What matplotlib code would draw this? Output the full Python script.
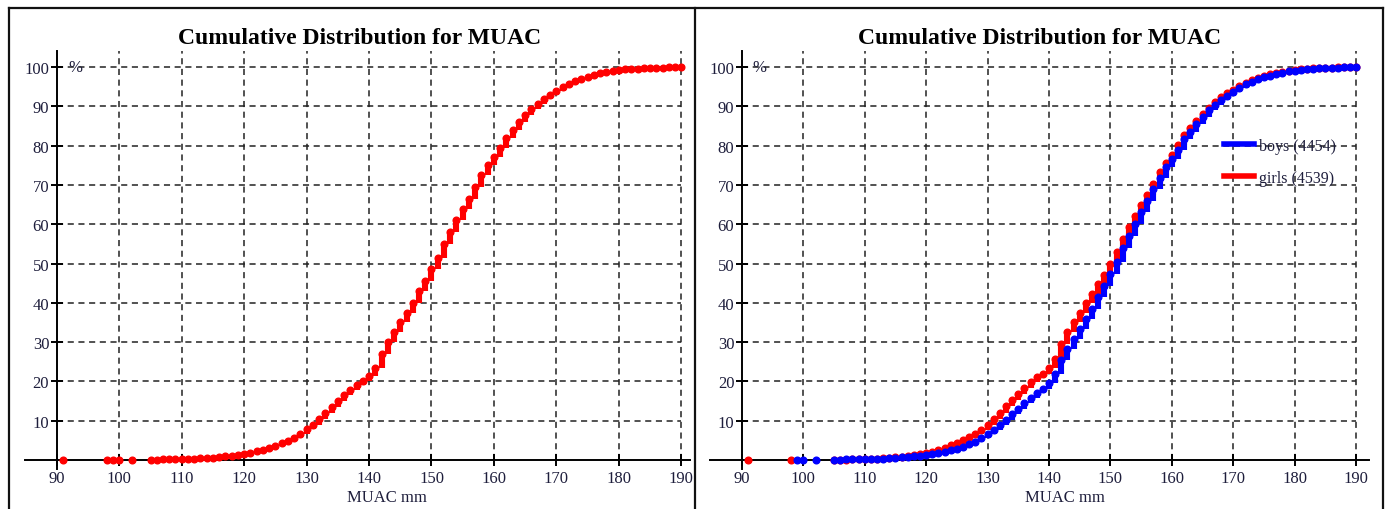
import matplotlib
matplotlib.use("Agg")
import matplotlib.pyplot as plt
from matplotlib.lines import Line2D

# MUAC values (mm) and cumulative percentages
mm_all = [91, 98, 99, 100, 102] + list(range(105, 191))
pct_all = [0.01, 0.02, 0.03, 0.05, 0.06,
           0.08, 0.10, 0.12, 0.15, 0.18, 0.22, 0.28, 0.33, 0.40, 0.50,
           0.60, 0.75, 0.90, 1.05, 1.25, 1.5, 1.8, 2.2, 2.6, 3.1,
           3.6, 4.2, 4.9, 5.7, 6.6, 7.8, 9.0, 10.4, 12.0, 13.5,
           15.0, 16.5, 17.8, 19.0, 20.0, 21.5, 23.5, 27.0, 30.0, 32.5,
           35.0, 37.5, 40.0, 43.0, 45.5, 48.5, 51.5, 55.0, 58.0, 61.0,
           64.0, 66.5, 69.5, 72.5, 75.0, 77.0, 79.5, 82.0, 84.0, 86.0,
           87.7, 89.3, 90.7, 92.0, 93.0, 94.0, 95.0, 95.8, 96.5, 97.1,
           97.6, 98.0, 98.4, 98.7, 99.0, 99.2, 99.4, 99.5, 99.6, 99.7,
           99.8, 99.85, 99.9, 99.95, 99.98, 100.0]

mm_girls = [91, 98] + list(range(105, 191))
pct_girls = [0.02, 0.04,
             0.07, 0.09, 0.11, 0.13, 0.18, 0.24, 0.30, 0.37, 0.45, 0.55,
             0.67, 0.83, 1.0, 1.2, 1.45, 1.75, 2.1, 2.6, 3.1, 3.7,
             4.3, 5.0, 5.8, 6.7, 7.7, 9.0, 10.4, 12.0, 13.7, 15.3,
             16.9, 18.4, 19.8, 21.0, 22.0, 23.5, 25.8, 29.4, 32.5, 35.0,
             37.5, 40.0, 42.3, 44.8, 47.2, 50.0, 52.9, 56.2, 59.2, 62.0,
             65.0, 67.4, 70.3, 73.2, 75.6, 77.6, 80.2, 82.6, 84.5, 86.4,
             88.1, 89.6, 91.0, 92.3, 93.3, 94.3, 95.2, 96.0, 96.7, 97.3,
             97.8, 98.2, 98.5, 98.8, 99.1, 99.3, 99.45, 99.55, 99.65, 99.75,
             99.85, 99.9, 99.93, 99.96, 99.98, 100.0]

mm_boys = [99, 100, 102] + list(range(105, 191))
pct_boys = [0.02, 0.05, 0.07,
            0.09, 0.11, 0.13, 0.17, 0.18, 0.20, 0.26, 0.29, 0.35, 0.45,
            0.53, 0.67, 0.8, 0.9, 1.05, 1.25, 1.5, 1.8, 2.1, 2.5,
            2.9, 3.4, 4.0, 4.7, 5.5, 6.6, 7.6, 8.8, 10.3, 11.7,
            13.1, 14.6, 15.8, 17.0, 18.0, 19.5, 21.8, 25.5, 28.3, 30.9,
            33.4, 35.9, 38.5, 41.6, 44.2, 47.4, 50.4, 54.0, 57.0, 60.1,
            63.2, 65.8, 68.9, 71.9, 74.5, 76.5, 79.0, 81.6, 83.5, 85.6,
            87.3, 89.0, 90.4, 91.7, 92.7, 93.7, 94.8, 95.6, 96.3, 96.9,
            97.4, 97.8, 98.3, 98.6, 98.9, 99.1, 99.35, 99.45, 99.55, 99.65,
            99.75, 99.8, 99.87, 99.94, 99.98, 100.0]

xticks = list(range(90, 191, 10))
yticks = list(range(10, 101, 10))
title = "Cumulative Distribution for MUAC"
legend_labels = ["boys (4454)", "girls (4539)"]

serif = ["Liberation Serif", "DejaVu Serif"]
txt_col = "#1e1e3c"

fig = plt.figure(figsize=(13.87, 5.10), dpi=100)
W, H = 1387.0, 510.0


def draw_curve(ax, xs, ys, col):
    prev = [0.0] + ys[:-1]
    ax.vlines(xs, prev, ys, colors=col, lw=4.4, zorder=3)
    ax.plot(xs, ys, ls="none", marker="o", ms=4.8, color=col, zorder=3)


def setup(ax, xlo, xhi):
    ylo, yhi = -2.3, 104.1
    ax.set_xlim(xlo, xhi)
    ax.set_ylim(ylo, yhi)
    for s in ["top", "right"]:
        ax.spines[s].set_visible(False)
    ax.spines["bottom"].set_position(("data", 0))
    ax.spines["left"].set_position(("data", 90))
    ax.spines["bottom"].set_linewidth(1.4)
    ax.spines["left"].set_linewidth(1.4)
    ax.set_xticks(xticks)
    ax.set_yticks(yticks)
    ax.tick_params(direction="inout", length=9, width=1.4, colors="black",
                   labelcolor=txt_col, labelsize=12)
    ax.tick_params(axis="x", pad=3)
    ax.tick_params(axis="y", pad=1)
    for lab in ax.get_xticklabels() + ax.get_yticklabels():
        lab.set_family(serif)
    ax.vlines(xticks[1:], 0, yhi, colors="#222222", lw=1.1,
              linestyles=(0, (4, 3)), zorder=1)
    ax.hlines(yticks, 90, 190, colors="#222222", lw=1.1,
              linestyles=(0, (4, 3)), zorder=1)
    ax.text(92.9, 100, "%", ha="center", va="center", fontsize=12,
            family=serif, color=txt_col, zorder=2)
    ax.patch.set_alpha(0)


# left panel
ax1 = fig.add_axes([25 / W, 40 / H, 665 / W, 418 / H])
setup(ax1, 84.9, 191.4)
draw_curve(ax1, mm_all, pct_all, "#ff0000")

# right panel
ax2 = fig.add_axes([710 / W, 40 / H, 659 / W, 418 / H])
setup(ax2, 84.8, 192.1)
draw_curve(ax2, mm_girls, pct_girls, "#ff0000")
draw_curve(ax2, mm_boys, pct_boys, "#0000ff")

handles = [Line2D([], [], color="#0000ff", lw=4),
           Line2D([], [], color="#ff0000", lw=4)]
fig.legend(handles, legend_labels, loc="upper left",
           bbox_to_anchor=(1216 / W, 1 - 131 / H), frameon=False,
           borderpad=0, handlelength=1.9, handletextpad=0.3,
           labelspacing=1.0, prop={"family": serif, "size": 11.5},
           labelcolor=txt_col)

# titles and axis labels
fig.text(360 / W, 1 - 38 / H, title, ha="center", va="center",
         fontsize=17, fontweight="bold", family=serif, color="black")
fig.text(1040 / W, 1 - 38 / H, title, ha="center", va="center",
         fontsize=17, fontweight="bold", family=serif, color="black")
fig.text(387 / W, 1 - 498 / H, "MUAC mm", ha="center", va="center",
         fontsize=12, family=serif, color=txt_col)
fig.text(1065 / W, 1 - 498 / H, "MUAC mm", ha="center", va="center",
         fontsize=12, family=serif, color=txt_col)

# panel frames
for xs, ys in [([9, 9], [9, 515]), ([695, 695], [9, 515]),
               ([1383, 1383], [9, 515]), ([9, 1383], [9, 9])]:
    fig.add_artist(Line2D([x / W for x in xs], [1 - y / H for y in ys],
                          color="#111111", lw=1.6))

fig.savefig("out.png", dpi=100)
